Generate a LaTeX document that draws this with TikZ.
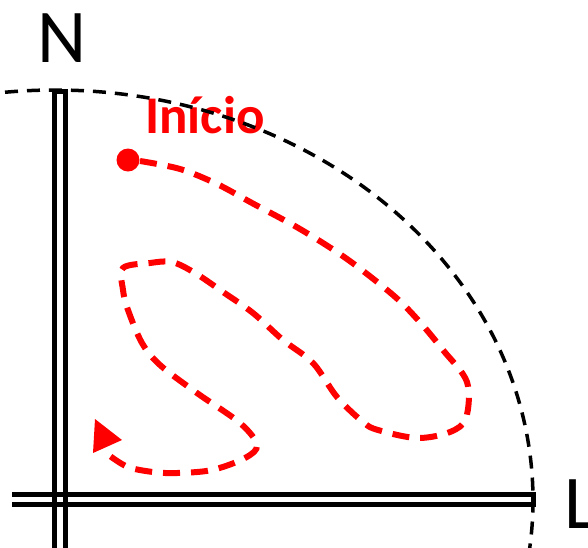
\documentclass[tikz,border=0pt]{standalone}
\usepackage{fontspec}
\setmainfont{Carlito}
\begin{document}
\begin{tikzpicture}[x=1pt,y=-1pt,
  axisline/.style={line width=5pt,black,line join=miter},
  limitarc/.style={line width=3.5pt,black,dash pattern=on 13pt off 9pt},
  route/.style={line width=6pt,red,dash pattern=on 17pt off 11pt,line cap=butt},
  lbl/.style={inner sep=0pt,anchor=base west}]
\useasboundingbox (0,0) rectangle (588,547);
\begin{scope}
\clip (0,0) rectangle (588,547);
% axes
\draw[axisline] (54,550) -- (54,91) -- (65.5,91) -- (65.5,550);
\draw[axisline] (12,494.5) -- (533,494.5) -- (533,504.5) -- (12,504.5);
% labels
\node[lbl,font=\fontsize{76}{76}\selectfont] (n) at (37,62) {N};
\node[lbl,font=\fontsize{76}{76}\selectfont] (l) at (564,528) {L};
\node[lbl,red,font=\bfseries\fontsize{53}{53}\selectfont] (inicio) at (145,133) {Início};
% route
\fill[red] (128,160) circle (11.5);
\draw[route] plot[smooth,tension=0.55] coordinates {
 (140,161) (180,169) (217,184) (252,203) (300,229) (347,259) (393,295)
 (418,320) (443,350) (467,382) (466,418) (450,432) (417,438) (378,430)
 (363,422) (337,397) (313,363) (283,340) (253,313) (223,292) (195,273)
 (172,262) (150,263) (123,268) (123,290) (128,310) (142,343) (160,365)
 (197,393) (240,423) (257,445) (245,458) (212,470) (177,473) (153,472)
 (128,467) (110,456)};
\fill[red] (95,419) -- (93,453) -- (122,440) -- cycle;
% limit arc
\draw[limitarc] (55,500) ++(-96:478 and 410) arc[start angle=-96,end angle=15,x radius=478,y radius=410];
\end{scope}
\end{tikzpicture}
\end{document}
